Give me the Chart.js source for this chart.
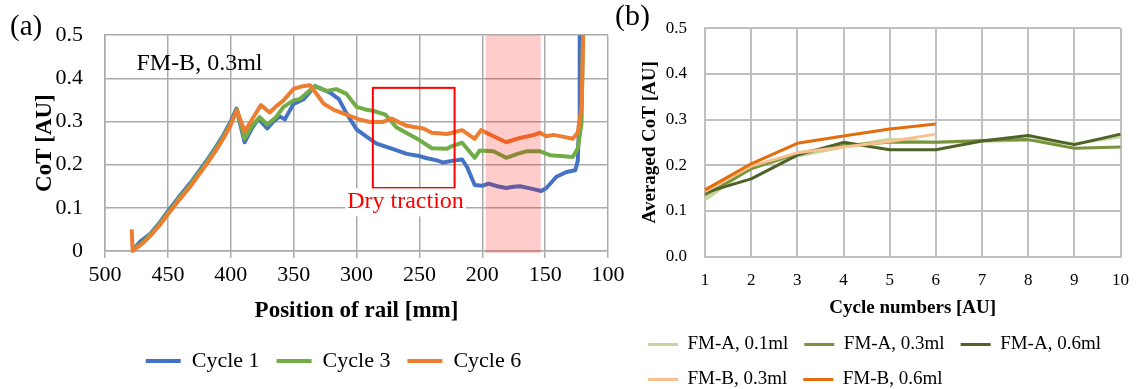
<!DOCTYPE html>
<html><head><meta charset="utf-8">
<script src="https://cdn.jsdelivr.net/npm/chart.js@4.4.0/dist/chart.umd.min.js"></script>
<style>
html,body{margin:0;padding:0;background:#fff;width:1143px;height:389px;overflow:hidden;}
#wrap{position:relative;width:1143px;height:389px;background:#fff;}
#ca{position:absolute;left:0;top:0;}
#cb{position:absolute;left:612px;top:0;}
</style></head><body>
<div id="wrap"><canvas id="ca" width="640" height="389"></canvas><canvas id="cb" width="531" height="389"></canvas></div>
<script>
// ---------- Panel (a) data ----------
const seriesNamesA = ['Cycle 1', 'Cycle 3', 'Cycle 6'];
const cycle1Pos = [478,472,464,457,450,441,432,425,419,412,406,400,395.5,389,383,378,371,366,361,357,350,342,333,321,314,308,300,292,284,272,260,250,244,236,231,222,216,212,206,200,195,188,181,175,170,162,153,149,141,133,126,124,123,122.5];
const cycle1CoT = [0.002,0.022,0.040,0.064,0.092,0.126,0.158,0.186,0.210,0.240,0.268,0.300,0.330,0.252,0.285,0.306,0.284,0.300,0.312,0.305,0.341,0.352,0.382,0.367,0.352,0.319,0.282,0.265,0.249,0.237,0.225,0.220,0.215,0.210,0.205,0.210,0.212,0.194,0.153,0.151,0.156,0.150,0.146,0.149,0.150,0.145,0.139,0.146,0.172,0.183,0.187,0.209,0.30,0.52];
const cycle3Pos = [478,470,464,457,450,441,432,425,419,412,406,400,395,389,383,377,371,364,358,350,345,340,333,324,316,308,300,293,287,277,268,258,250,240,228,225,216,206,202,191,181,172,165,154,146,138,128,124,121,119.8];
const cycle3CoT = [0.002,0.020,0.038,0.061,0.088,0.122,0.154,0.182,0.206,0.236,0.264,0.296,0.328,0.260,0.290,0.310,0.293,0.310,0.334,0.349,0.352,0.365,0.382,0.371,0.375,0.364,0.334,0.328,0.325,0.316,0.286,0.270,0.257,0.238,0.237,0.242,0.251,0.216,0.233,0.231,0.216,0.225,0.231,0.231,0.222,0.220,0.218,0.238,0.297,0.52];
const cycle6Pos = [478.8,478,470,464,457,450,441,432,425,419,412,406,400,395,389,382,376,369,364,358,350,344,337,332,326,318,308,298,289,279,272,266,260,247,240,228,216,206,201,191,181,170,160,154,149,143.5,136,128,124,121,119.6];
const cycle6CoT = [0.050,0.0,0.018,0.035,0.058,0.085,0.118,0.150,0.178,0.202,0.232,0.260,0.292,0.326,0.277,0.310,0.338,0.321,0.335,0.349,0.376,0.381,0.384,0.365,0.341,0.327,0.316,0.305,0.299,0.299,0.307,0.298,0.290,0.284,0.274,0.271,0.280,0.260,0.280,0.266,0.252,0.262,0.268,0.274,0.266,0.269,0.265,0.260,0.275,0.334,0.52];
const yTickLabelsA = ['0','0.1','0.2','0.3','0.4','0.5'];
const dryTractionPos = [287, 222];
const dryTractionCoT = [0.146, 0.378];
const dryTractionTextAt = [261, 0.115];
const pinkBandPos = [197.3, 153.5];
const sampleTextAt = [475, 0.434];

// ---------- Panel (b) data ----------
const cycleNumbers = ['1','2','3','4','5','6','7','8','9','10'];
const seriesNamesB = ['FM-A, 0.1ml','FM-A, 0.3ml','FM-A, 0.6ml','FM-B, 0.3ml','FM-B, 0.6ml'];
const fmA01 = [0.124,0.195,0.220,0.240,0.257,0.250,0.252,0.255,0.247,0.262];
const fmA03 = [0.134,0.192,0.226,0.243,0.250,0.250,0.254,0.256,0.237,0.240];
const fmA06 = [0.140,0.170,0.222,0.250,0.234,0.234,0.253,0.265,0.245,0.268];
const fmB03 = [0.142,0.198,0.227,0.240,0.252,0.268];
const fmB06 = [0.146,0.203,0.248,0.264,0.279,0.290];
const yTickLabelsB = ['0.0','0.1','0.2','0.3','0.4','0.5'];

// ---------- helpers ----------
const SERIF = "'Liberation Serif','Times New Roman',serif";
Chart.defaults.font.family = SERIF;
Chart.defaults.color = '#000';
function pts(xs, ys){ return xs.map((x,i)=>({x:x, y:ys[i]})); }
const byIndex = (a,b)=>a.datasetIndex-b.datasetIndex;
function lineLegendLabels(chart){
  const items = Chart.defaults.plugins.legend.labels.generateLabels(chart);
  items.forEach(it=>{
    const ds = chart.data.datasets[it.datasetIndex];
    it.strokeStyle = ds.borderColor; it.fillStyle = ds.borderColor;
    it.lineWidth = ds.borderWidth; it.pointStyle = 'line'; it.lineDash = [];
  });
  return items;
}

const annotA = {
  id:'annotA',
  afterLayout(chart){
    // centre the legend row under the plot like the original figure
    chart.legend.left = 59;
  },
  afterDatasetsDraw(chart){
    const {ctx, scales:{x,y}} = chart;
    ctx.save();
    const bx1 = x.getPixelForValue(pinkBandPos[0]), bx2 = x.getPixelForValue(pinkBandPos[1]);
    const byT = y.getPixelForValue(0.5), byB = y.getPixelForValue(0);
    ctx.fillStyle = 'rgba(255,0,0,0.2)';
    ctx.fillRect(bx1, byT, bx2-bx1, byB-byT+2);
    const rx1 = x.getPixelForValue(dryTractionPos[0]), rx2 = x.getPixelForValue(dryTractionPos[1]);
    const ry1 = y.getPixelForValue(dryTractionCoT[1]), ry2 = y.getPixelForValue(dryTractionCoT[0]);
    ctx.strokeStyle = '#FF0000'; ctx.lineWidth = 2;
    ctx.strokeRect(rx1, ry1, rx2-rx1, ry2-ry1);
    ctx.font = "24px " + SERIF;
    ctx.textAlign = 'center'; ctx.textBaseline = 'middle';
    const tx = x.getPixelForValue(dryTractionTextAt[0]), ty = y.getPixelForValue(dryTractionTextAt[1]);
    const tw = ctx.measureText('Dry traction').width;
    ctx.fillStyle = '#fff';
    ctx.fillRect(tx - tw/2 - 2, ty - 13, tw + 4, 28);
    ctx.fillStyle = '#FF0000';
    ctx.fillText('Dry traction', tx, ty);
    ctx.fillStyle = '#000';
    ctx.textAlign = 'left';
    ctx.fillText('FM-B, 0.3ml', x.getPixelForValue(sampleTextAt[0]), y.getPixelForValue(sampleTextAt[1]));
    ctx.restore();
  },
  afterDraw(chart){
    const ctx = chart.ctx;
    ctx.save();
    ctx.font = "29px " + SERIF; ctx.fillStyle = '#000';
    ctx.textAlign = 'left'; ctx.textBaseline = 'middle';
    ctx.fillText('(a)', 10, 27);
    ctx.restore();
  }
};

const labelB = {
  id:'labelB',
  afterDraw(chart){
    const ctx = chart.ctx;
    ctx.save();
    ctx.font = "30px " + SERIF; ctx.fillStyle = '#000';
    ctx.textAlign = 'left'; ctx.textBaseline = 'middle';
    ctx.fillText('(b)', 3, 17);
    ctx.restore();
  }
};

const gridA = '#ABABAB';
new Chart(document.getElementById('ca'), {
  type:'line',
  data:{ datasets:[
    {label:seriesNamesA[0], data:pts(cycle1Pos,cycle1CoT), borderColor:'#4472C4', backgroundColor:'#4472C4', borderWidth:4, order:3},
    {label:seriesNamesA[1], data:pts(cycle3Pos,cycle3CoT), borderColor:'#70AD47', backgroundColor:'#70AD47', borderWidth:4, order:2},
    {label:seriesNamesA[2], data:pts(cycle6Pos,cycle6CoT), borderColor:'#ED7D31', backgroundColor:'#ED7D31', borderWidth:4, order:1}
  ]},
  options:{
    responsive:false, animation:false, devicePixelRatio:1,
    layout:{padding:{left:0,right:32,top:25,bottom:7}},
    elements:{point:{radius:0}, line:{tension:0, borderJoinStyle:'round'}},
    datasets:{line:{clip:{left:5,right:5,top:0,bottom:5}}},
    scales:{
      x:{type:'linear', reverse:true, min:100, max:500,
         ticks:{stepSize:50, padding:4, font:{size:22}, color:'#000', maxRotation:0, autoSkip:false},
         grid:{color:gridA, lineWidth:1.5, drawTicks:true, tickLength:7},
         border:{color:gridA, width:1.5},
         title:{display:true, text:'Position of rail [mm]', font:{size:23, weight:'bold'}, color:'#000', padding:{top:0,bottom:8}},
         afterFit:s=>{s.height=82;}},
      y:{min:0, max:0.5,
         ticks:{stepSize:0.1, padding:22, font:{size:22}, color:'#000', callback:v=>yTickLabelsA[Math.round(v*10)]},
         grid:{color:gridA, lineWidth:1.5, drawTicks:false},
         border:{color:gridA, width:1.5},
         title:{display:true, text:'CoT [AU]', font:{size:23, weight:'bold'}, color:'#000', padding:{top:31,bottom:0}},
         afterFit:s=>{s.width=105;}}
    },
    plugins:{
      legend:{position:'bottom', labels:{usePointStyle:true, pointStyle:'line', pointStyleWidth:35, padding:17, font:{size:22}, color:'#000', sort:byIndex, generateLabels:lineLegendLabels}},
      tooltip:{enabled:false}
    }
  },
  plugins:[annotA]
});

const gridB = '#C0C0C0';
new Chart(document.getElementById('cb'), {
  type:'line',
  data:{ labels:cycleNumbers, datasets:[
    {label:seriesNamesB[0], data:fmA01, borderColor:'#C3D69B', backgroundColor:'#C3D69B', borderWidth:3, order:5},
    {label:seriesNamesB[1], data:fmA03, borderColor:'#77933C', backgroundColor:'#77933C', borderWidth:3, order:4},
    {label:seriesNamesB[2], data:fmA06, borderColor:'#4F6228', backgroundColor:'#4F6228', borderWidth:3, order:3},
    {label:seriesNamesB[3], data:fmB03, borderColor:'#FAC090', backgroundColor:'#FAC090', borderWidth:3, order:2},
    {label:seriesNamesB[4], data:fmB06, borderColor:'#E46C0A', backgroundColor:'#E46C0A', borderWidth:3, order:1}
  ]},
  options:{
    responsive:false, animation:false, devicePixelRatio:1,
    layout:{padding:{left:20,right:15,top:22,bottom:-10}},
    elements:{point:{radius:0}, line:{tension:0, borderJoinStyle:'round'}},
    scales:{
      x:{type:'category', offset:false,
         ticks:{padding:14, font:{size:17}, color:'#000', maxRotation:0, autoSkip:false},
         grid:{color:gridB, lineWidth:2, drawTicks:false, offset:false},
         border:{color:gridB, width:2},
         title:{display:true, text:'Cycle numbers [AU]', font:{size:19, weight:'bold'}, color:'#000', padding:{top:0,bottom:0}},
         afterFit:s=>{s.height=62.5;}},
      y:{min:0, max:0.5,
         ticks:{stepSize:0.1, padding:18, font:{size:17}, color:'#000', callback:v=>yTickLabelsB[Math.round(v*10)]},
         grid:{color:gridB, lineWidth:2, drawTicks:false},
         border:{color:gridB, width:2},
         title:{display:true, text:'Averaged CoT [AU]', font:{size:19, weight:'bold'}, color:'#000', padding:{top:6.6,bottom:0}},
         afterFit:s=>{s.width=73;}}
    },
    plugins:{
      legend:{position:'bottom', align:'start', labels:{usePointStyle:true, pointStyle:'line', pointStyleWidth:30, padding:16, font:{size:19}, color:'#000', sort:byIndex, generateLabels:lineLegendLabels}},
      tooltip:{enabled:false}
    }
  },
  plugins:[labelB]
});
</script>
</body></html>
